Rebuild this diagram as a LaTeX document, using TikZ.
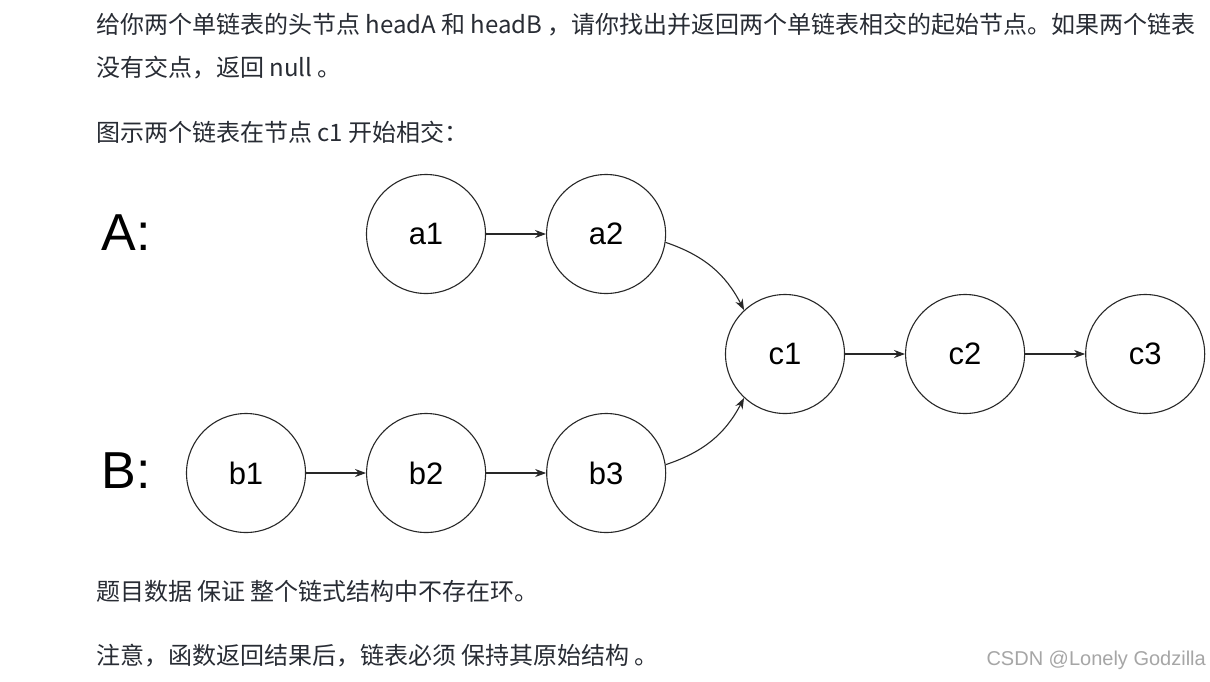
\documentclass[tikz,border=0pt]{standalone}
\usepackage{fontspec}
\setmainfont{Liberation Sans}
\newfontfamily\cjk{Noto Sans CJK SC}
\usepackage{xcolor}
\usepackage{tikz}
\usetikzlibrary{arrows.meta, positioning}

\definecolor{bodytext}{RGB}{40,44,52}
\definecolor{ringline}{RGB}{40,40,40}

\tikzset{
    listnode/.style={circle, draw=ringline, line width=1.1pt, minimum size=119pt, inner sep=0pt,
        font=\fontsize{31}{31}\selectfont},
    link/.style={-{Stealth[length=11pt, width=8pt]}, line width=1.1pt, draw=ringline},
    bodyline/.style={anchor=west, inner sep=0pt, text=bodytext, font=\cjk\fontsize{24}{26}\selectfont},
    headlabel/.style={inner sep=0pt, font=\fontsize{52}{52}\selectfont}
}

\begin{document}
\begin{tikzpicture}[x=1pt, y=-1pt]
    \useasboundingbox[fill=white] (0,0) rectangle (1210,681);

    % --- đoạn văn phía trên ---
    \node[bodyline] (line1) at (96,25) {给你两个单链表的头节点 headA 和 headB ，请你找出并返回两个单链表相交的起始节点。如果两个链表};
    \node[bodyline] (line2) at (96,68) {没有交点，返回 null 。};
    \node[bodyline] (line3) at (96,132) {图示两个链表在节点 c1 开始相交：};

    % --- nhãn hai danh sách ---
    \node[headlabel] (labA) at (126,233) {A:};
    \node[headlabel] (labB) at (126,471) {B:};

    % --- các nút ---
    \node[listnode] (a1) at (426,234) {a1};
    \node[listnode, right=60pt of a1] (a2) {a2};
    \node[listnode] (c1) at (785,354) {c1};
    \node[listnode, right=60pt of c1] (c2) {c2};
    \node[listnode, right=60pt of c2] (c3) {c3};
    \node[listnode] (b1) at (246,473) {b1};
    \node[listnode, right=60pt of b1] (b2) {b2};
    \node[listnode, right=60pt of b2] (b3) {b3};

    % --- các mũi tên ---
    \draw[link] (a1) -- (a2);
    \draw[link] (b1) -- (b2);
    \draw[link] (b2) -- (b3);
    \draw[link] (c1) -- (c2);
    \draw[link] (c2) -- (c3);
    \draw[link] (a2.-8) to[bend left=22] (c1.133);
    \draw[link] (b3.8) to[bend right=22] (c1.-133);

    % --- đoạn văn phía dưới ---
    \node[bodyline] (line4) at (96,591) {题目数据 保证 整个链式结构中不存在环。};
    \node[bodyline] (line5) at (96,656) {注意，函数返回结果后，链表必须 保持其原始结构 。};
    \node[anchor=east, inner sep=0pt, text=black!35, font=\fontsize{20}{20}\selectfont] (mark) at (1206,660) {CSDN @Lonely Godzilla};
\end{tikzpicture}
\end{document}
